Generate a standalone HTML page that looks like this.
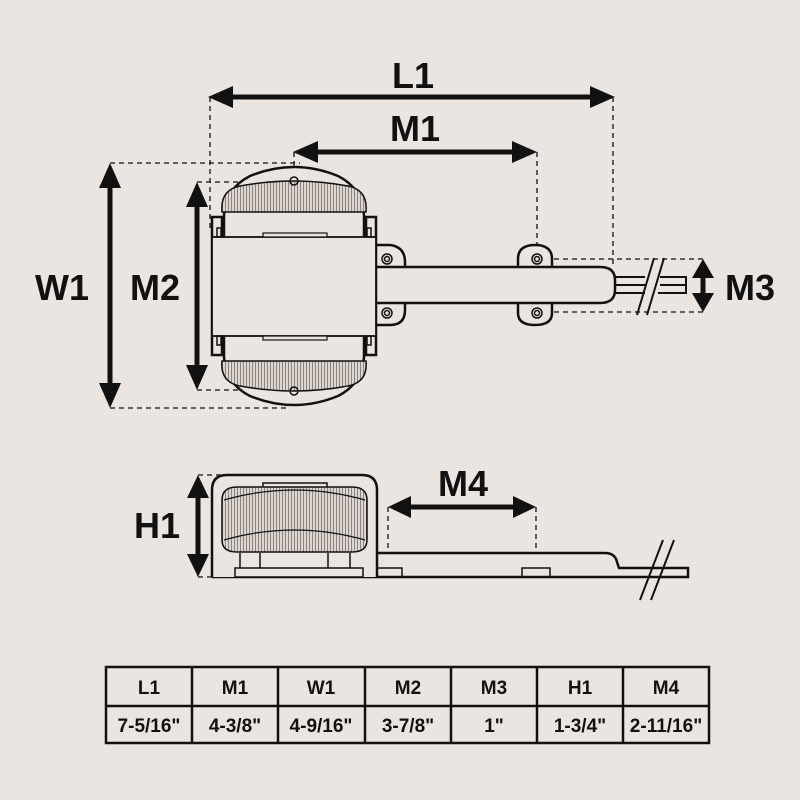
<!DOCTYPE html>
<html><head><meta charset="utf-8"><style>
html,body{margin:0;padding:0;background:#ebe5e1;}
svg{display:block}
text{font-family:"Liberation Sans",sans-serif;font-weight:bold;fill:#111}
</style></head><body>
<svg width="800" height="800" viewBox="0 0 800 800" xmlns="http://www.w3.org/2000/svg">
<defs>
<pattern id="fin" width="3" height="10" patternUnits="userSpaceOnUse">
<rect width="3" height="10" fill="#ddd6d1"/><rect width="1" height="10" fill="#8a8380"/>
</pattern>
</defs>
<rect width="800" height="800" fill="#ebe5e1"/>
<g stroke="#111" stroke-width="1.3" stroke-dasharray="5,4" fill="none">
<line x1="210" y1="97" x2="210" y2="232"/>
<line x1="613" y1="97" x2="613" y2="268"/>
<line x1="294" y1="152" x2="294" y2="178"/>
<line x1="537" y1="152" x2="537" y2="250"/>
<line x1="110" y1="163" x2="300" y2="163"/>
<line x1="110" y1="408" x2="290" y2="408"/>
<line x1="197" y1="182" x2="296" y2="182"/>
<line x1="197" y1="390" x2="296" y2="390"/>
<line x1="545" y1="259" x2="703" y2="259"/>
<line x1="545" y1="312" x2="703" y2="312"/>
<line x1="198" y1="475" x2="225" y2="475"/>
<line x1="198" y1="577" x2="225" y2="577"/>
<line x1="388" y1="507" x2="388" y2="568"/>
<line x1="536" y1="507" x2="536" y2="568"/>
</g>
<g fill="#111" stroke="#111">
<line x1="225" y1="97" x2="598" y2="97" stroke-width="5"/>
<polygon points="208,97 233,86 233,108" stroke="none"/><polygon points="615,97 590,86 590,108" stroke="none"/>
<line x1="310" y1="152" x2="520" y2="152" stroke-width="5"/>
<polygon points="293,152 318,141 318,163" stroke="none"/><polygon points="537,152 512,141 512,163" stroke="none"/>
<line x1="110" y1="180" x2="110" y2="392" stroke-width="5"/>
<polygon points="110,163 99,188 121,188" stroke="none"/><polygon points="110,408 99,383 121,383" stroke="none"/>
<line x1="197" y1="198" x2="197" y2="374" stroke-width="5"/>
<polygon points="197,182 186,207 208,207" stroke="none"/><polygon points="197,390 186,365 208,365" stroke="none"/>
<line x1="703" y1="270" x2="703" y2="300" stroke-width="5"/>
<polygon points="703,259 692,278 714,278" stroke="none"/><polygon points="703,312 692,293 714,293" stroke="none"/>
<line x1="198" y1="490" x2="198" y2="562" stroke-width="5"/>
<polygon points="198,475 187,498 209,498" stroke="none"/><polygon points="198,577 187,554 209,554" stroke="none"/>
<line x1="402" y1="507" x2="522" y2="507" stroke-width="5"/>
<polygon points="388,507 411,496 411,518" stroke="none"/><polygon points="536,507 513,496 513,518" stroke="none"/>
</g>
<g font-size="36">
<text x="413" y="88" text-anchor="middle">L1</text>
<text x="415" y="141" text-anchor="middle">M1</text>
<text x="62" y="300" text-anchor="middle">W1</text>
<text x="155" y="300" text-anchor="middle">M2</text>
<text x="750" y="300" text-anchor="middle">M3</text>
<text x="157" y="538" text-anchor="middle">H1</text>
<text x="463" y="496" text-anchor="middle">M4</text>
</g>
<g stroke="#111" stroke-width="2.5" fill="#ebe5e1">
<path d="M224,215 Q226,188 250,176 Q294,158 338,176 Q362,188 364,215 L364,357 Q362,384 338,396 Q294,414 250,396 Q226,384 224,357 Z"/>
<path d="M222,212 Q220,190 240,186 Q294,176 348,186 Q368,190 366,212 Z" fill="url(#fin)" stroke-width="1.5"/>
<path d="M222,361 Q220,382 240,386 Q294,396 348,386 Q368,382 366,361 Z" fill="url(#fin)" stroke-width="1.5"/>
<path d="M212,217 L222,217 L222,355 L212,355 Z"/>
<path d="M366,217 L376,217 L376,355 L366,355 Z"/>
<path d="M518,259 Q518,245 535,245 Q552,245 552,259 L552,313 Q552,325 535,325 Q518,325 518,313 Z"/>
<path d="M376,245 L390,245 Q405,247 405,262 L405,310 Q405,325 390,325 L376,325 Z"/>
<path d="M376,267 L600,267 Q615,267 615,280 L615,290 Q615,303 600,303 L376,303 Z"/>
<rect x="212" y="237" width="164" height="99" stroke-width="1.8"/>
<rect x="263" y="233" width="64" height="4" stroke-width="1.2"/>
<rect x="263" y="336" width="64" height="4" stroke-width="1.2"/>
</g>
<g stroke="#111" stroke-width="1.5" fill="none">
<circle cx="387" cy="259" r="5"/><circle cx="387" cy="259" r="2.5"/>
<circle cx="387" cy="313" r="5"/><circle cx="387" cy="313" r="2.5"/>
<circle cx="537" cy="259" r="5"/><circle cx="537" cy="259" r="2.5"/>
<circle cx="537" cy="313" r="5"/><circle cx="537" cy="313" r="2.5"/>
<circle cx="294" cy="181" r="4"/><circle cx="294" cy="391" r="4"/>
<rect x="217" y="228" width="4" height="9"/><rect x="367" y="228" width="4" height="9"/>
<rect x="217" y="336" width="4" height="9"/><rect x="367" y="336" width="4" height="9"/>
<path d="M615,277 L645,277 M615,285 L645,285 M615,293 L645,293" stroke-width="2"/>
<path d="M660,277 L686,277 L686,293 L658,293 M660,285 L686,285" stroke-width="2"/>
<path d="M637,315 L654,258 M647,315 L664,258" stroke-width="2"/>
</g>
<g stroke="#111" stroke-width="2.5" fill="#ebe5e1">
<path d="M377,553 L605,553 Q615,553 617,562 L619,568 L688,568 L688,577 L212,577 Z"/>
<path d="M212,577 L212,490 Q212,475 227,475 L362,475 Q377,475 377,490 L377,577"/>
</g>
<g stroke="#111" stroke-width="1.5" fill="none">
<rect x="263" y="483" width="64" height="5" fill="#ebe5e1"/>
<path d="M237,487 L352,487 Q367,487 367,500 L367,540 Q367,552 352,552 L237,552 Q222,552 222,540 L222,500 Q222,487 237,487 Z" fill="url(#fin)"/>
<path d="M224,500 Q294,480 365,500" stroke-width="1.2"/>
<path d="M224,540 Q294,520 365,540" stroke-width="1.2"/>
<rect x="235" y="568" width="128" height="9" fill="#ebe5e1"/>
<path d="M240,553 L240,568 M260,553 L260,568 M328,553 L328,568 M350,553 L350,568"/>
<rect x="377" y="568" width="25" height="9"/>
<rect x="522" y="568" width="28" height="9"/>
<path d="M640,600 L663,540 M651,600 L674,540" stroke-width="2"/>
</g>
<g stroke="#111" stroke-width="2.5" fill="none">
<rect x="106" y="667" width="603" height="76"/>
<line x1="106" y1="706" x2="709" y2="706"/>
<line x1="192" y1="667" x2="192" y2="743"/>
<line x1="278" y1="667" x2="278" y2="743"/>
<line x1="365" y1="667" x2="365" y2="743"/>
<line x1="451" y1="667" x2="451" y2="743"/>
<line x1="537" y1="667" x2="537" y2="743"/>
<line x1="623" y1="667" x2="623" y2="743"/>
</g>
<g font-size="19" text-anchor="middle">
<text x="149" y="694">L1</text><text x="235" y="694">M1</text><text x="321" y="694">W1</text><text x="408" y="694">M2</text><text x="494" y="694">M3</text><text x="580" y="694">H1</text><text x="666" y="694">M4</text>
<text x="149" y="732">7-5/16"</text><text x="235" y="732">4-3/8"</text><text x="321" y="732">4-9/16"</text><text x="408" y="732">3-7/8"</text><text x="494" y="732">1"</text><text x="580" y="732">1-3/4"</text><text x="666" y="732">2-11/16"</text>
</g>
</svg>
</body></html>
